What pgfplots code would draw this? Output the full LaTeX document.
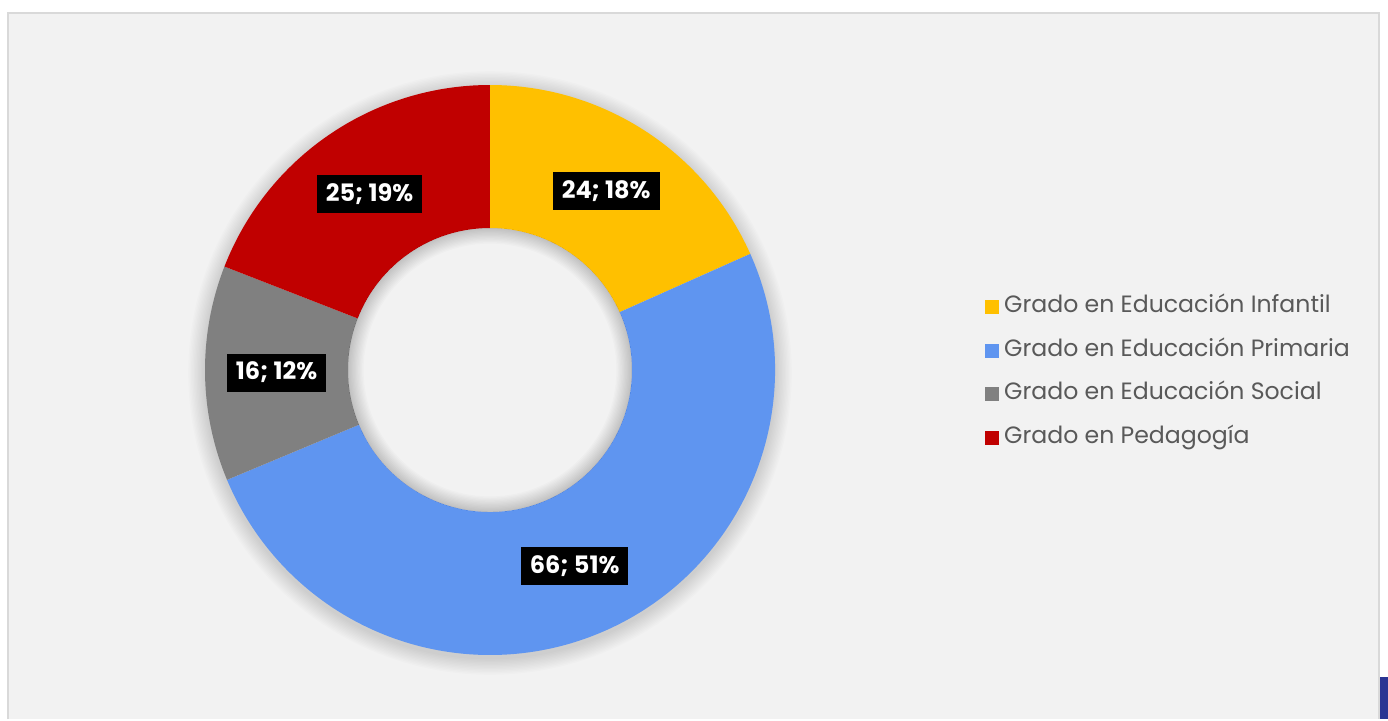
\documentclass[border=0pt]{standalone}
\usepackage{pgfplots}
\usepackage{pgfplotstable}
\pgfplotsset{compat=1.18}
\usepackage{fontspec}
\setmainfont{Poppins}

\definecolor{cYellow}{HTML}{FFC000}
\definecolor{cBlue}{HTML}{5F95F0}
\definecolor{cGray}{HTML}{808080}
\definecolor{cRed}{HTML}{C00000}
\definecolor{panel}{HTML}{F2F2F2}
\definecolor{frame}{HTML}{D9D9D9}
\definecolor{legtext}{HTML}{595959}
\definecolor{navy}{HTML}{2B3593}

% slices, clockwise from 12 o'clock
\pgfplotstableread[col sep=comma]{
name,value,pct,color
Grado en Educación Infantil,24,18,cYellow
Grado en Educación Primaria,66,51,cBlue
Grado en Educación Social,16,12,cGray
Grado en Pedagogía,25,19,cRed
}\datatable

\begin{document}
\begin{tikzpicture}
\begin{axis}[
  width=694pt, height=359.5pt, scale only axis,
  hide axis, clip=false,
  xmin=0, xmax=1388, ymin=0, ymax=719,
  legend cell align=left,
  legend image code/.code={\fill[#1] (0pt,-3.25pt) rectangle (6.5pt,3.25pt);},
  legend style={at={(axis cs:979,427)}, anchor=north west, draw=none, fill=none,
    font=\fontsize{11.8}{13}\selectfont, text=legtext,
    row sep=11.35pt, column sep=2.5pt,
    nodes={inner sep=0pt, text height=8pt, text depth=2.5pt}},
]
\addlegendimage{cYellow}\addlegendentry{Grado en Educación Infantil}
\addlegendimage{cBlue}\addlegendentry{Grado en Educación Primaria}
\addlegendimage{cGray}\addlegendentry{Grado en Educación Social}
\addlegendimage{cRed}\addlegendentry{Grado en Pedagogía}

\pgfplotsextra{
  % background panel
  \fill[white] (axis cs:0,0) rectangle (axis cs:1388,719);
  \fill[panel] (axis cs:7,0) rectangle (axis cs:1379,707);
  \draw[frame, line width=1pt] (axis cs:7.5,0) -- (axis cs:7.5,706.5) -- (axis cs:1378.5,706.5) -- (axis cs:1378.5,0);
  \fill[navy] (axis cs:1380,0) rectangle (axis cs:1388,42);
  % soft glow around the ring
  \foreach \k in {1,...,12}
    \fill[black, opacity=0.012, even odd rule] (axis cs:490,346) circle[radius={(285+1.4*\k)*0.5pt}]
      (axis cs:490,349) circle[radius=142pt];
  % total
  \pgfplotstablegetrowsof{\datatable}
  \pgfmathtruncatemacro\nrows{\pgfplotsretval-1}
  \gdef\total{0}
  \foreach \i in {0,...,\nrows}{
    \pgfplotstablegetelem{\i}{value}\of\datatable
    \pgfmathsetmacro\t{\total+\pgfplotsretval}
    \xdef\total{\t}
  }
  \gdef\curang{90}
  \foreach \i in {0,...,\nrows}{
    \pgfplotstablegetelem{\i}{value}\of\datatable \let\v\pgfplotsretval
    \pgfplotstablegetelem{\i}{color}\of\datatable \let\c\pgfplotsretval
    \let\s\curang
    \pgfmathsetmacro\e{\s-\v/\total*360}
    \xdef\curang{\e}
    \fill[\c] (axis cs:{490+285*cos(\s)},{349+285*sin(\s)})
      arc[start angle=\s, end angle=\e, radius=142.5pt]
      -- (axis cs:{490+142*cos(\e)},{349+142*sin(\e)})
      arc[start angle=\e, end angle=\s, radius=71pt] -- cycle;
  }
  % shadow inside the hole
  \foreach \k in {1,...,12}
    \fill[black, opacity=0.014, even odd rule] (axis cs:490,349) circle[radius=71pt]
      (axis cs:490,349) circle[radius={(142-1.3*\k)*0.5pt}];
  % labels
  \gdef\curang{90}
  \foreach \i in {0,...,\nrows}{
    \pgfplotstablegetelem{\i}{value}\of\datatable \let\v\pgfplotsretval
    \pgfplotstablegetelem{\i}{pct}\of\datatable \let\p\pgfplotsretval
    \let\s\curang
    \pgfmathsetmacro\e{\s-\v/\total*360}
    \xdef\curang{\e}
    \pgfmathsetmacro\m{(\s+\e)/2}
    \node[fill=black, text=white, font=\fontsize{12}{14}\selectfont\bfseries,
      inner xsep=4.5pt, inner ysep=0pt, minimum height=19pt]
      at (axis cs:{490+213.5*cos(\m)},{349+213.5*sin(\m)}) {\v; \p\%};
  }
}
\end{axis}
\end{tikzpicture}
\end{document}
